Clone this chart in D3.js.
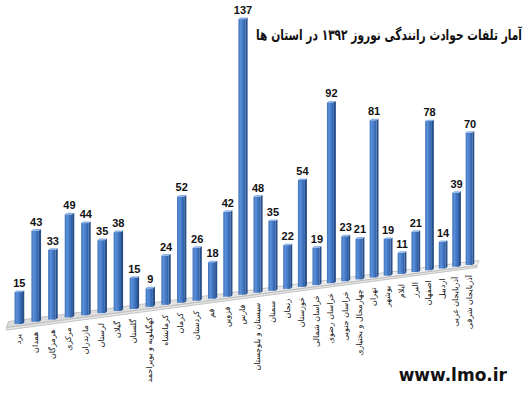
<!DOCTYPE html>
<html>
<head>
<meta charset="utf-8">
<script src="https://cdn.jsdelivr.net/npm/d3@7"></script>
<style>
body{margin:0;background:#fff;}
svg{display:block;}
</style>
</head>
<body>
<svg></svg>
<script>
// data
const provinces = ["یزد","همدان","هرمزگان","مرکزی","مازندران","لرستان","گیلان","گلستان","کهگیلویه و بویراحمد","کرمانشاه","کرمان","کردستان","قم","قزوین","فارس","سیستان و بلوچستان","سمنان","زنجان","خوزستان","خراسان شمالی","خراسان رضوی","خراسان جنوبی","چهارمحال و بختیاری","تهران","بوشهر","ایلام","البرز","اصفهان","اردبیل","آذربایجان غربی","آذربایجان شرقی"];
const casualties = [15,43,33,49,44,35,38,15,9,24,52,26,18,42,137,48,35,22,54,19,92,23,21,81,19,11,21,78,14,39,70];
const titleText = "آمار تلفات حوادث رانندگی نوروز ۱۳۹۲ در استان ها";
const siteText = "www.lmo.ir";

const w = 530;
const h = 396;
const persp = 0.0042; // perspective shrink per bar step

let svg = d3.select("svg");
let xScale, baseScale, heightScale;

let depth = (t) => t / (1 + persp * t);   // foreshortened position along the floor
let shrink = (t) => 1 / (1 + persp * t);

let drawChart = () => {
  svg.attr("width", w).attr("height", h);

  let defs = svg.append("defs");
  let g = defs.append("linearGradient").attr("id", "barFront").attr("x1", "0").attr("x2", "1").attr("y1", "0").attr("y2", "0");
  g.append("stop").attr("offset", "0%").attr("stop-color", "#3e70b8");
  g.append("stop").attr("offset", "30%").attr("stop-color", "#5a8fd8");
  g.append("stop").attr("offset", "70%").attr("stop-color", "#3f74c2");
  g.append("stop").attr("offset", "100%").attr("stop-color", "#2e5c9f");

  let f = defs.append("linearGradient").attr("id", "floorFill").attr("x1", "0").attr("x2", "0").attr("y1", "0").attr("y2", "1");
  f.append("stop").attr("offset", "0%").attr("stop-color", "#f4f4f4");
  f.append("stop").attr("offset", "100%").attr("stop-color", "#d9d9d9");
}

let generateScales = () => {
  let n = casualties.length - 1;
  xScale = d3.scaleLinear()
    .domain([0, depth(n)])
    .range([18.3, 469]);

  baseScale = d3.scaleLinear()   // floor line, y of a bar's foot from its x
    .domain([18.3, 469])
    .range([324, 265]);

  heightScale = d3.scaleLinear()
    .domain([0, d3.max(casualties)])
    .range([0, d3.max(casualties) * 2.13]);
}

let drawFloor = () => {
  let n = casualties.length - 1;
  let xl = xScale(depth(-0.7)), xr = xScale(depth(n + 0.6));
  let bl = baseScale(xl), br = baseScale(xr);
  let top = [[xl + 2, bl - 4], [xr + 2, br - 3.5], [xr, br + 1.5], [xl, bl + 2]];
  let front = [[xl, bl + 2], [xr, br + 1.5], [xr, br + 3.5], [xl, bl + 4.5]];
  let line = d3.line();
  svg.append("path").attr("d", line(top) + "Z")
    .attr("fill", "url(#floorFill)").attr("stroke", "#b8b8b8").attr("stroke-width", 0.8);
  svg.append("path").attr("d", line(front) + "Z")
    .attr("fill", "#e6e6e6").attr("stroke", "#b8b8b8").attr("stroke-width", 0.8);
}

let drawBars = () => {
  let bars = svg.selectAll("g.bar")
    .data(casualties)
    .enter()
    .append("g")
    .attr("class", "bar");

  bars.each(function (v, i) {
    let s = shrink(i);
    let cx = xScale(depth(i));
    let base = baseScale(cx);
    let bh = heightScale(v) * s;
    let bw = 7.5 * s;
    let dx = 2.2 * s, dy = 1.6 * s;
    let g = d3.select(this);
    let line = d3.line();

    // side face
    g.append("path")
      .attr("d", line([[cx + bw / 2, base], [cx + bw / 2, base - bh], [cx + bw / 2 + dx, base - bh - dy], [cx + bw / 2 + dx, base - dy]]) + "Z")
      .attr("fill", "#264f8c");
    // front face
    g.append("rect")
      .attr("x", cx - bw / 2)
      .attr("y", base - bh)
      .attr("width", bw)
      .attr("height", bh)
      .attr("fill", "url(#barFront)");
    // top face
    g.append("path")
      .attr("d", line([[cx - bw / 2, base - bh], [cx + bw / 2, base - bh], [cx + bw / 2 + dx, base - bh - dy], [cx - bw / 2 + dx, base - bh - dy]]) + "Z")
      .attr("fill", "#8db2e6");

    // value label
    g.append("text")
      .attr("x", cx + 1)
      .attr("y", base - bh - 5)
      .attr("text-anchor", "middle")
      .attr("font-family", "'Liberation Sans', Arial, sans-serif")
      .attr("font-weight", "bold")
      .attr("font-size", "11px")
      .attr("fill", "#111")
      .text(v);

    // province name, rotated
    let ly = base + 10;
    g.append("text")
      .attr("transform", "translate(" + cx + "," + ly + ") rotate(-90)")
      .attr("dy", "0.35em")
      .attr("text-anchor", "end")
      .attr("font-family", "'DejaVu Sans', sans-serif")
      .attr("font-size", "8px")
      .attr("fill", "#111")
      .text(provinces[i]);
  });
}

let drawTexts = () => {
  // title: squeeze horizontally so it spans x 256..522 like the reference
  let title = svg.append("text")
    .attr("text-anchor", "end")
    .attr("font-family", "'DejaVu Sans', sans-serif")
    .attr("font-weight", "bold")
    .attr("font-size", "15px")
    .attr("fill", "#111")
    .text(titleText);
  let tw = title.node().getComputedTextLength();
  let sx = Math.min(1, 266 / tw);
  title.attr("transform", "translate(522,40) scale(" + sx + ",1)");

  svg.append("text")
    .attr("x", 507)
    .attr("y", 381)
    .attr("text-anchor", "end")
    .attr("font-family", "'DejaVu Sans', sans-serif")
    .attr("font-weight", "bold")
    .attr("font-size", "17px")
    .attr("fill", "#111")
    .text(siteText);
}

drawChart()
generateScales()
drawFloor()
drawBars()
drawTexts()
</script>
</body>
</html>
